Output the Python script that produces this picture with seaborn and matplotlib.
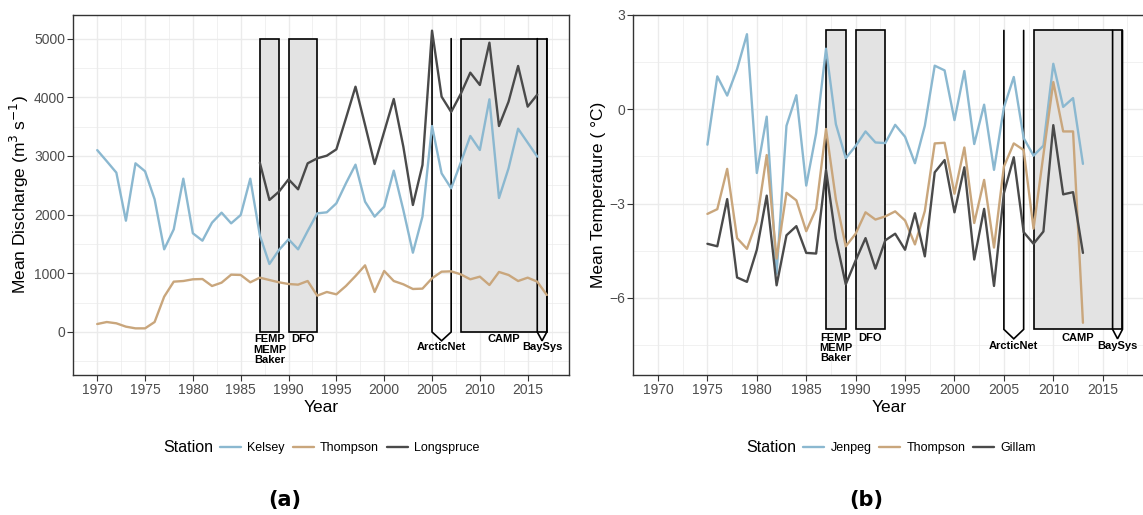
import matplotlib
matplotlib.use("Agg")
import matplotlib.pyplot as plt
import seaborn as sns
import pandas as pd
import numpy as np
from matplotlib.lines import Line2D
from matplotlib.patches import Polygon

# ---------------- data ----------------
years_kelsey = list(range(1970, 2017))
kelsey = [3100, 2910, 2716, 1897, 2875, 2739, 2262, 1409, 1750, 2613,
          1682, 1556, 1863, 2034, 1852, 1994, 2613, 1648, 1159, 1398,
          1580, 1409, 1721, 2022, 2040, 2193, 2534, 2852, 2221, 1966,
          2136, 2750, 2079, 1352, 1966, 3511, 2704, 2449, 2886, 3341,
          3102, 3966, 2284, 2790, 3465, 3227, 2989]
years_thompson_q = list(range(1970, 2018))
thompson_q = [136, 170, 148, 91, 62, 62, 170, 602, 858, 869,
              898, 903, 784, 841, 977, 972, 847, 926, 886, 847,
              818, 807, 869, 619, 682, 642, 784, 954, 1136, 682,
              1040, 869, 813, 733, 739, 915, 1028, 1034, 983, 898,
              943, 801, 1023, 972, 869, 926, 858, 631]
years_longspruce = list(range(1987, 2017))
longspruce = [2886, 2250, 2392, 2602, 2432, 2875, 2960, 3005, 3113, 3642,
              4181, 3528, 2863, 3414, 3971, 3159, 2165, 2846, 5136, 4011,
              3750, 4057, 4420, 4210, 4931, 3511, 3926, 4534, 3841, 4045]

years_temp = list(range(1975, 2014))
jenpeg = [-1.13, 1.04, 0.43, 1.27, 2.38, -2.03, -0.24, -5.23, -0.53, 0.44,
          -2.43, -0.77, 1.92, -0.48, -1.56, -1.17, -0.71, -1.06, -1.08, -0.50,
          -0.88, -1.72, -0.53, 1.38, 1.23, -0.35, 1.21, -1.11, 0.14, -1.93,
          0.05, 1.02, -0.92, -1.48, -1.16, 1.44, 0.07, 0.35, -1.74]
thompson_t = [-3.33, -3.18, -1.90, -4.10, -4.44, -3.56, -1.46, -4.75, -2.66, -2.90,
              -3.88, -3.17, -0.63, -2.87, -4.36, -3.96, -3.28, -3.51, -3.41, -3.25,
              -3.54, -4.30, -3.24, -1.09, -1.07, -2.69, -1.22, -3.62, -2.25, -4.40,
              -1.83, -1.09, -1.30, -3.80, -1.45, 0.86, -0.71, -0.71, -6.79]
gillam = [-4.28, -4.36, -2.86, -5.35, -5.49, -4.47, -2.75, -5.60, -4.01, -3.72,
          -4.57, -4.59, -1.93, -4.12, -5.57, -4.81, -4.10, -5.07, -4.17, -3.96,
          -4.47, -3.31, -4.68, -2.01, -1.62, -3.28, -1.85, -4.78, -3.17, -5.62,
          -2.67, -1.53, -3.91, -4.28, -3.89, -0.51, -2.71, -2.64, -4.57]

prog_names = ["FEMP\nMEMP\nBaker", "DFO", "ArcticNet", "CAMP", "BaySys"]
prog_start = [1987, 1990, 2005, 2008, 2016]
prog_end = [1989, 1993, 2007, 2017, 2017]
prog_kind = ["rect", "rect", "arrow", "rect", "arrow"]

stations_q = ["Kelsey", "Thompson", "Longspruce"]
stations_t = ["Jenpeg", "Thompson", "Gillam"]
col_blue, col_tan, col_dark = "#8bb8d0", "#c9a67c", "#4a4a4a"

# ---------------- frames ----------------
df_q = pd.concat([
    pd.DataFrame({"Year": years_kelsey, "Value": kelsey, "Station": "Kelsey"}),
    pd.DataFrame({"Year": years_thompson_q, "Value": thompson_q, "Station": "Thompson"}),
    pd.DataFrame({"Year": years_longspruce, "Value": longspruce, "Station": "Longspruce"}),
], ignore_index=True)
df_t = pd.concat([
    pd.DataFrame({"Year": years_temp, "Value": jenpeg, "Station": "Jenpeg"}),
    pd.DataFrame({"Year": years_temp, "Value": thompson_t, "Station": "Thompson"}),
    pd.DataFrame({"Year": years_temp, "Value": gillam, "Station": "Gillam"}),
], ignore_index=True)

sns.set_theme(style="white")
plt.rcParams["font.family"] = ["Liberation Sans", "DejaVu Sans"]
plt.rcParams["text.color"] = "black"
plt.rcParams["axes.labelcolor"] = "black"

W, H = 1143, 515
fig = plt.figure(figsize=(W / 100, H / 100), dpi=100)
top_px, bot_px = 14.7, 375.0
axA = fig.add_axes([73.3 / W, 1 - bot_px / H, 496.0 / W, (bot_px - top_px) / H])
axB = fig.add_axes([633.3 / W, 1 - bot_px / H, 512.4 / W, (bot_px - top_px) / H])


def style_axes(ax, yticks, yminor):
    ax.set_xlim(1967.65, 2019.35)
    ax.set_xticks(list(range(1970, 2016, 5)))
    ax.set_xticks(list(np.arange(1967.5, 2020, 5)), minor=True)
    ax.set_yticks(yticks)
    ax.set_yticks(yminor, minor=True)
    ax.grid(which="major", color="#ebebeb", lw=1.0)
    ax.grid(which="minor", color="#ebebeb", lw=0.5)
    ax.set_axisbelow(True)
    for s in ax.spines.values():
        s.set_color("#333333")
        s.set_linewidth(1.0)
        s.set_visible(True)
    ax.tick_params(which="major", length=4, width=0.8, color="#333333",
                   labelcolor="#4d4d4d", labelsize=10, pad=2,
                   bottom=True, left=True)
    ax.tick_params(which="minor", length=0)
    ax.set_xlabel("Year", fontsize=12.5, labelpad=2)


def draw_programs(ax, ytop, ybot, ytip, ylab, ylab_arrow):
    for name, s, e, kind in zip(prog_names, prog_start, prog_end, prog_kind):
        m = (s + e) / 2
        if kind == "rect":
            ax.add_patch(Polygon([(s, ybot), (s, ytop), (e, ytop), (e, ybot)],
                                 closed=True, facecolor="#e3e3e3",
                                 edgecolor="black", lw=1.2, zorder=1.5))
            ax.text(m, ylab, name, ha="center", va="top", fontsize=8,
                    fontweight="bold", linespacing=1.05, zorder=4, color="black")
        else:
            ax.plot([s, s, m, e, e], [ytop, ybot, ytip, ybot, ytop],
                    color="black", lw=1.2, zorder=1.6, solid_joinstyle="miter")
            ax.text(m, ylab_arrow, name, ha="center", va="top", fontsize=8,
                    fontweight="bold", zorder=4, color="black")


# ---------------- panel a ----------------
draw_programs(axA, 5000, 0, -150, -40, -170)
sns.lineplot(data=df_q, x="Year", y="Value", hue="Station", hue_order=stations_q,
             palette=[col_blue, col_tan, col_dark], lw=1.7, legend=False,
             ax=axA, zorder=3)
axA.set_ylim(-733, 5408)
style_axes(axA, [0, 1000, 2000, 3000, 4000, 5000],
           [-500, 500, 1500, 2500, 3500, 4500])
axA.set_ylabel("Mean Discharge (m$^3$ s$^{-1}$)", fontsize=12.5, labelpad=2)

# ---------------- panel b ----------------
draw_programs(axB, 2.5, -7.0, -7.3, -7.1, -7.36)
sns.lineplot(data=df_t, x="Year", y="Value", hue="Station", hue_order=stations_t,
             palette=[col_blue, col_tan, col_dark], lw=1.7, legend=False,
             ax=axB, zorder=3)
axB.set_ylim(-8.45, 3.0)
style_axes(axB, [-6, -3, 0, 3], [-7.5, -4.5, -1.5, 1.5])
axB.set_ylabel("Mean Temperature ( °C)", fontsize=12.5, labelpad=2)


# ---------------- legends ----------------
def add_legend(names, x_title_px, y_px):
    fig.text(x_title_px / W, 1 - y_px / H, "Station", fontsize=11.5,
             va="center", ha="left", color="black")
    handles = [Line2D([], [], color=c, lw=1.7) for c in (col_blue, col_tan, col_dark)]
    fig.legend(handles, names, loc="center left",
               bbox_to_anchor=((x_title_px + 57) / W, 1 - y_px / H),
               ncol=3, frameon=False, fontsize=9, handlelength=1.7,
               handletextpad=0.5, columnspacing=0.6, borderpad=0,
               borderaxespad=0)


add_legend(stations_q, 163, 448)
add_legend(stations_t, 746, 448)

fig.text(285 / W, 1 - 500 / H, "(a)", fontsize=15, fontweight="bold",
         ha="center", va="center", family="DejaVu Sans", color="black")
fig.text(866 / W, 1 - 500 / H, "(b)", fontsize=15, fontweight="bold",
         ha="center", va="center", family="DejaVu Sans", color="black")

fig.savefig("out.png", dpi=100)
